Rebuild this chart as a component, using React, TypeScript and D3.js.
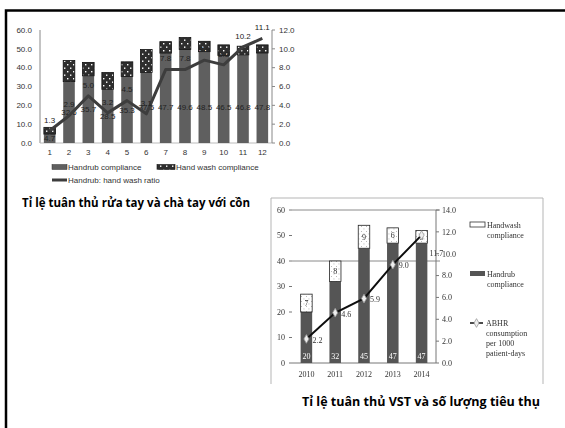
import React from "react";
import * as d3 from "d3";

// Chart 1: monthly hand hygiene compliance
const months = ["1", "2", "3", "4", "5", "6", "7", "8", "9", "10", "11", "12"];
const handrub1 = [4.7, 32.6, 35.7, 28.5, 35.3, 37.5, 47.7, 49.6, 48.5, 46.5, 46.8, 47.8];
const handwash1 = [3.6, 11.2, 7.1, 8.9, 7.8, 12.1, 6.1, 6.4, 5.5, 5.6, 4.6, 4.3];
const ratio1 = [1.3, 2.9, 5.0, 3.2, 4.5, 3.1, 7.8, 7.8, 8.8, 8.3, 10.2, 11.1];
const leftTicks1 = [0, 10, 20, 30, 40, 50, 60];
const rightTicks1 = [0, 2, 4, 6, 8, 10, 12];

// Chart 2: yearly compliance and ABHR consumption
const years = ["2010", "2011", "2012", "2013", "2014"];
const handrub2 = [20, 32, 45, 47, 47];
const handwash2 = [7, 8, 9, 6, 5];
const abhr2 = [2.2, 4.6, 5.9, 9.0, 11.7];
const leftTicks2 = [0, 10, 20, 30, 40, 50, 60];
const rightTicks2 = [0, 2, 4, 6, 8, 10, 12, 14];
const gridTicks2 = [40, 60];

const title1 = "Tỉ lệ tuân thủ rửa tay và chà tay với cồn";
const title2 = "Tỉ lệ tuân thủ VST và số lượng tiêu thụ";

const SANS = "'Liberation Sans', Arial, sans-serif";
const SERIF = "'Liberation Serif', 'DejaVu Serif', serif";
const TITLE = "'Open Sans', 'Noto Sans', sans-serif";

function ChartOne() {
  const top = 30, bottom = 143, left = 40, right = 272;
  const x = d3.scaleBand().domain(months).range([left, right]).paddingInner(0.4).paddingOuter(0.2);
  const yL = d3.scaleLinear().domain([0, 60]).range([bottom, top]);
  const yR = d3.scaleLinear().domain([0, 12]).range([bottom, top]);
  const cx = (i: number) => (x(months[i]) as number) + x.bandwidth() / 2;
  const line = d3
    .line<number>()
    .x((_, i) => cx(i))
    .y((d) => yR(d));
  const f1 = d3.format(".1f");
  return (
    <g fontFamily={SANS} fontSize={8} fill="#333">
      {/* axes */}
      <line x1={left} x2={left} y1={top} y2={bottom} stroke="#888" />
      <line x1={left} x2={right} y1={bottom} y2={bottom} stroke="#bbb" />
      <line x1={right} x2={right} y1={top} y2={bottom} stroke="#888" />
      {leftTicks1.map((t) => (
        <text key={"l" + t} x={left - 8} y={yL(t)} dy="0.35em" textAnchor="end">
          {f1(t)}
        </text>
      ))}
      {rightTicks1.map((t) => (
        <g key={"r" + t}>
          <line x1={right} x2={right + 3} y1={yR(t)} y2={yR(t)} stroke="#888" />
          <text x={right + 7} y={yR(t)} dy="0.35em">
            {f1(t)}
          </text>
        </g>
      ))}
      {months.map((m, i) => (
        <text key={"x" + m} x={cx(i)} y={bottom + 12} textAnchor="middle">
          {m}
        </text>
      ))}
      {/* stacked bars */}
      {months.map((m, i) => {
        const bx = x(m) as number;
        const w = x.bandwidth();
        const hr = handrub1[i];
        const hw = handwash1[i];
        return (
          <g key={"b" + m}>
            <rect x={bx} y={yL(hr)} width={w} height={yL(0) - yL(hr)} fill="#5f5f5f" />
            <rect
              x={bx}
              y={yL(hr + hw)}
              width={w}
              height={yL(hr) - yL(hr + hw)}
              fill="url(#dots1)"
              stroke="#111"
              strokeWidth={0.8}
            />
          </g>
        );
      })}
      {/* handrub value labels */}
      {months.map((m, i) => (
        <text key={"hl" + m} x={cx(i)} y={yL(Math.min(handrub1[i] / 2, 19))} dy="0.35em" textAnchor="middle" fill="#222">
          {f1(handrub1[i])}
        </text>
      ))}
      {/* ratio line */}
      <path d={line(ratio1) as string} fill="none" stroke="#3d3d3d" strokeWidth={3} strokeLinejoin="round" />
      {ratio1.map((v, i) => (
        <text key={"rl" + i} x={cx(i)} y={yR(v) - 11} dy="0.35em" textAnchor="middle" fill="#222">
          {f1(v)}
        </text>
      ))}
      {/* legend */}
      <g fontSize={8}>
        <rect x={52} y={164.5} width={15} height={5} fill="#5f5f5f" stroke="#333" strokeWidth={0.5} />
        <text x={68} y={167} dy="0.35em">Handrub compliance</text>
        <rect x={157} y={164.5} width={18} height={5} fill="url(#dots1)" stroke="#111" strokeWidth={0.6} />
        <text x={176} y={167} dy="0.35em">Hand wash compliance</text>
        <line x1={52} x2={67} y1={180} y2={180} stroke="#3d3d3d" strokeWidth={3} />
        <text x={68} y={180} dy="0.35em">Handrub: hand wash ratio</text>
      </g>
    </g>
  );
}

function ChartTwo() {
  const top = 210, bottom = 363, left = 292, right = 436;
  const x = d3.scaleBand().domain(years).range([left, right]).paddingInner(0.6).paddingOuter(0.3);
  const yL = d3.scaleLinear().domain([0, 60]).range([bottom, top]);
  const yR = d3.scaleLinear().domain([0, 14]).range([bottom, top]);
  const cx = (i: number) => (x(years[i]) as number) + x.bandwidth() / 2;
  const line = d3
    .line<number>()
    .x((_, i) => cx(i))
    .y((d) => yR(d));
  const f1 = d3.format(".1f");
  const diamond = d3.symbol().type(d3.symbolDiamond).size(22);
  return (
    <g fontFamily={SERIF} fontSize={8} fill="#333" filter="url(#soft)">
      {/* picture frame */}
      <path d="M271,384 V198 H543 V384" fill="none" stroke="#b5b5b5" strokeWidth={1} />
      {gridTicks2.map((t) => (
        <line key={"g" + t} x1={left} x2={right + 4} y1={yL(t)} y2={yL(t)} stroke="#8a8a8a" strokeWidth={1} />
      ))}
      <line x1={left} x2={right} y1={bottom} y2={bottom} stroke="#777" />
      <line x1={right} x2={right} y1={top} y2={bottom} stroke="#777" />
      {leftTicks2.map((t) => (
        <g key={"l" + t}>
          <line x1={left - 3} x2={left} y1={yL(t)} y2={yL(t)} stroke="#777" />
          <text x={left - 7} y={yL(t)} dy="0.35em" textAnchor="end">
            {t}
          </text>
        </g>
      ))}
      {rightTicks2.map((t) => (
        <g key={"r" + t}>
          <line x1={right} x2={right + 3} y1={yR(t)} y2={yR(t)} stroke="#777" />
          <text x={right + 6} y={yR(t)} dy="0.35em">
            {f1(t)}
          </text>
        </g>
      ))}
      {years.map((yv, i) => (
        <text key={"x" + yv} x={cx(i)} y={bottom + 14} textAnchor="middle">
          {yv}
        </text>
      ))}
      {years.map((yv, i) => {
        const bx = x(yv) as number;
        const w = x.bandwidth();
        const hr = handrub2[i];
        const hw = handwash2[i];
        return (
          <g key={"b" + yv}>
            <rect x={bx} y={yL(hr)} width={w} height={yL(0) - yL(hr)} fill="#555" />
            <rect
              x={bx}
              y={yL(hr + hw)}
              width={w}
              height={yL(hr) - yL(hr + hw)}
              fill="url(#dots2)"
              stroke="#222"
              strokeWidth={0.8}
            />
            <text x={cx(i)} y={yL(hr + hw / 2)} dy="0.35em" textAnchor="middle" fill="#333">
              {hw}
            </text>
            <text x={cx(i)} y={bottom - 7} dy="0.35em" textAnchor="middle" fill="#fff">
              {hr}
            </text>
          </g>
        );
      })}
      <path d={line(abhr2) as string} fill="none" stroke="#111" strokeWidth={2} />
      {abhr2.map((v, i) => (
        <g key={"p" + i}>
          <path
            d={diamond() as string}
            transform={`translate(${cx(i)},${yR(v)})`}
            fill="#eee"
            stroke="#999"
            strokeWidth={0.8}
          />
          <text
            x={cx(i) + (i === abhr2.length - 1 ? 8 : 6)}
            y={yR(v) + (i === abhr2.length - 1 ? 18 : 1)}
            dy="0.35em"
          >
            {f1(v)}
          </text>
        </g>
      ))}
      {/* legend */}
      <rect x={470} y={222} width={15} height={5} fill="#fff" stroke="#333" strokeWidth={0.8} />
      <text x={487} y={225} dy="0.35em">Handwash</text>
      <text x={487} y={235} dy="0.35em">compliance</text>
      <rect x={470} y={271} width={15} height={5} fill="#555" />
      <text x={487} y={274} dy="0.35em">Handrub</text>
      <text x={487} y={284} dy="0.35em">compliance</text>
      <line x1={470} x2={483} y1={323} y2={323} stroke="#111" strokeWidth={1.5} />
      <path d={diamond() as string} transform="translate(476.5,323)" fill="#eee" stroke="#999" strokeWidth={0.8} />
      <text x={486} y={323} dy="0.35em">ABHR</text>
      <text x={486} y={333} dy="0.35em">consumption</text>
      <text x={486} y={343} dy="0.35em">per 1000</text>
      <text x={486} y={353} dy="0.35em">patient-days</text>
    </g>
  );
}

export default function App() {
  return (
    <svg
      width={565}
      height={428}
      viewBox="0 0 565 428"
      style={{ position: "absolute", left: 0, top: 0, background: "#fff" }}
    >
      <defs>
        <pattern id="dots1" width={6} height={7} patternUnits="userSpaceOnUse">
          <rect width={6} height={7} fill="#2e2e2e" />
          <rect x={1} y={1} width={1.4} height={1.4} fill="#fff" />
          <rect x={4} y={4.5} width={1.4} height={1.4} fill="#fff" />
        </pattern>
        <pattern id="dots2" width={5} height={5} patternUnits="userSpaceOnUse">
          <rect width={5} height={5} fill="#fff" />
          <rect x={1} y={1} width={0.9} height={0.9} fill="#aaa" />
          <rect x={3.5} y={3.5} width={0.9} height={0.9} fill="#aaa" />
        </pattern>
        <filter id="soft" x="-5%" y="-5%" width="110%" height="110%">
          <feGaussianBlur stdDeviation={0.35} />
        </filter>
      </defs>
      <rect width={565} height={428} fill="#fff" />
      {/* slide frame */}
      <path d="M6,428 V10.5 H565" fill="none" stroke="#000" strokeWidth={2.5} />
      <ChartOne />
      <text x={22} y={207} fontFamily={TITLE} fontWeight="bold" fontSize={12} textLength={228} lengthAdjust="spacingAndGlyphs" fill="#000">
        {title1}
      </text>
      <ChartTwo />
      <text x={302} y={406} fontFamily={TITLE} fontWeight="bold" fontSize={12.5} textLength={238} lengthAdjust="spacingAndGlyphs" fill="#000">
        {title2}
      </text>
    </svg>
  );
}
